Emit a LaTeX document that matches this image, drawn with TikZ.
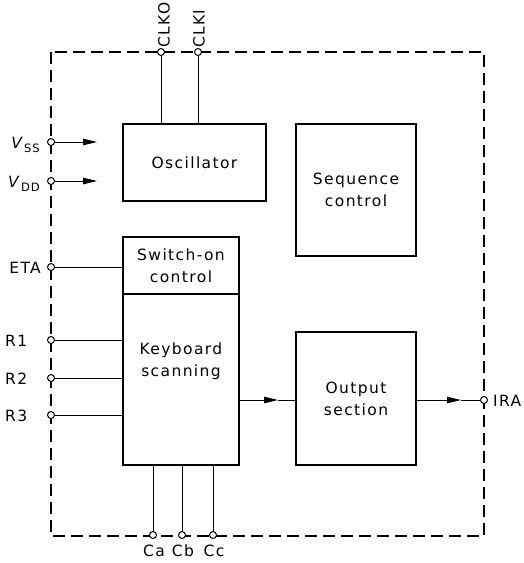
\documentclass[tikz,border=0pt]{standalone}
\usepackage{fontspec}
\setmainfont{DejaVu Sans}[LetterSpace=9]
\usetikzlibrary{arrows.meta}
\begin{document}
\begin{tikzpicture}[x=1pt,y=-1pt,
  txt/.style={font=\fontsize{15.5}{22}\selectfont, inner sep=0pt, align=center},
  box/.style={draw, line width=1.6pt, inner sep=0pt, align=center, font=\fontsize{15.5}{22}\selectfont},
  pin/.style={circle, draw, fill=white, inner sep=0pt, minimum size=7pt, line width=1pt},
  wire/.style={line width=0.9pt},
  frame/.style={dash pattern=on 12pt off 6pt, line width=1.3pt},
  arr/.style={-{Triangle[length=14pt,width=6.5pt]}}]
\useasboundingbox (0,0) rectangle (523,563);
% frame
\draw[frame] (51,52) rectangle (484,536);
% boxes
\node[box, minimum width=143pt, minimum height=77pt] (osc) at (194.5,162.5) {Oscillator};
\node[box, minimum width=120pt, minimum height=132pt] (seq) at (356,190) {Sequence\\control};
\node[box, minimum width=116pt, minimum height=57pt] (sw) at (181,265.5) {Switch-on\\control};
\node[box, minimum width=116pt, minimum height=171pt] (kb) at (181,379.5) {};
\node[txt] (kbtext) at (181,361) {Keyboard\\scanning};
\node[box, minimum width=120pt, minimum height=133pt] (out) at (356,398.5) {Output\\section};
% pins
\node[pin] (pclko) at (161,52) {};
\node[pin] (pclki) at (198,52) {};
\node[pin] (pvss) at (51,142) {};
\node[pin] (pvdd) at (51,181) {};
\node[pin] (peta) at (51,267) {};
\node[pin] (pr1) at (51,340) {};
\node[pin] (pr2) at (51,378) {};
\node[pin] (pr3) at (51,415) {};
\node[pin] (pca) at (153,535) {};
\node[pin] (pcb) at (182,535) {};
\node[pin] (pcc) at (213,535) {};
\node[pin] (pira) at (484,400) {};
% wires
\draw[wire] (pclko) -- (pclko |- osc.north);
\draw[wire] (pclki) -- (pclki |- osc.north);
\coordinate (vssend) at (97,142);
\coordinate (vddend) at (97,181);
\draw[wire, arr] (pvss) -- (vssend);
\draw[wire, arr] (pvdd) -- (vddend);
\draw[wire] (peta) -- (peta -| sw.west);
\draw[wire] (pr1) -- (pr1 -| kb.west);
\draw[wire] (pr2) -- (pr2 -| kb.west);
\draw[wire] (pr3) -- (pr3 -| kb.west);
\draw[wire] (pca) -- (pca |- kb.south);
\draw[wire] (pcb) -- (pcb |- kb.south);
\draw[wire] (pcc) -- (pcc |- kb.south);
\coordinate (kbo) at (kb.east |- 0,400);
\coordinate (tip1) at (278,400);
\draw[wire, arr] (kbo) -- (tip1);
\draw[wire] (tip1) -- (out.west |- tip1);
\coordinate (tip2) at (461,400);
\draw[wire, arr] (out.east |- tip2) -- (tip2);
\draw[wire] (tip2) -- (pira);
% labels
\node[txt, rotate=90, anchor=west] (lclko) at (164,48) {CLKO};
\node[txt, rotate=90, anchor=west] (lclki) at (199,48) {CLKI};
\node[txt, anchor=east] (lvss) at (40,145) {\textit{V}\raisebox{-0.4ex}{\fontsize{11.5}{12}\selectfont SS}};
\node[txt, anchor=east] (lvdd) at (40,184) {\textit{V}\raisebox{-0.4ex}{\fontsize{11.5}{12}\selectfont DD}};
\node[txt, anchor=east] (leta) at (41,268) {ETA};
\node[txt, anchor=west] (lr1) at (5,341) {R1};
\node[txt, anchor=west] (lr2) at (5,379) {R2};
\node[txt, anchor=west] (lr3) at (5,416) {R3};
\node[txt] (lca) at (154,551) {Ca};
\node[txt] (lcb) at (183,551) {Cb};
\node[txt] (lcc) at (214,551) {Cc};
\node[txt, anchor=west] (lira) at (493,401) {IRA};
\end{tikzpicture}
\end{document}
